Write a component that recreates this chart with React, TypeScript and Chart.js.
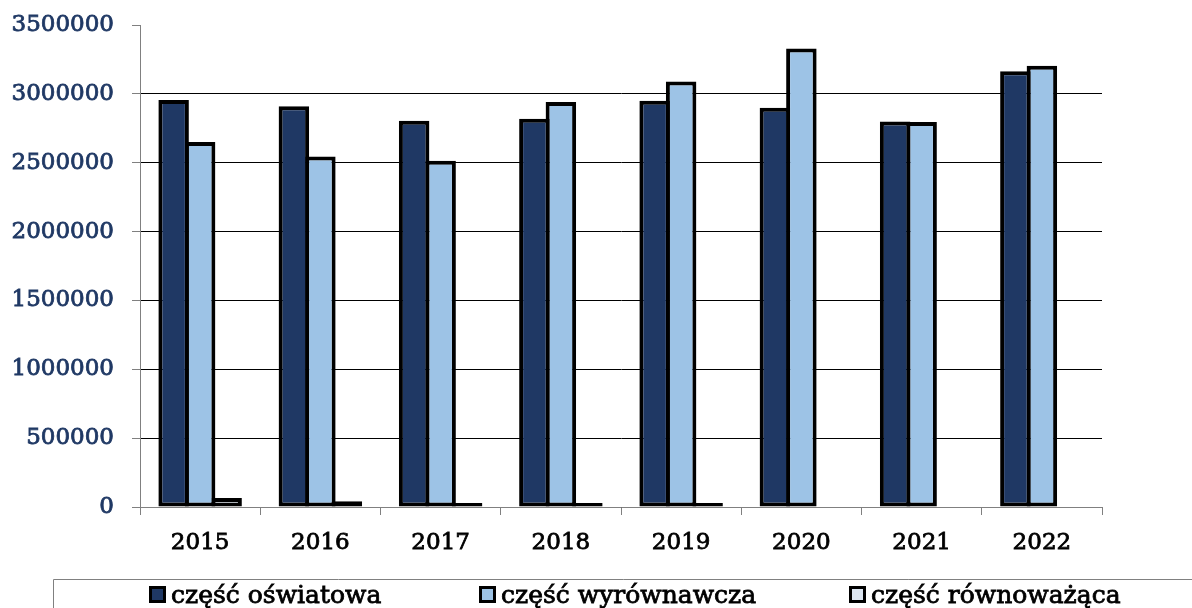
import { useEffect, useRef } from "react";
import { Chart, registerables } from "chart.js";

Chart.register(...registerables);

const categories = ["2015", "2016", "2017", "2018", "2019", "2020", "2021", "2022"];
const seriesLabels = ["część oświatowa", "część wyrównawcza", "część równoważąca"];
const oswiatowa = [2955000, 2910000, 2805000, 2820000, 2950000, 2900000, 2800000, 3165000];
const wyrownawcza = [2650000, 2545000, 2515000, 2940000, 3090000, 3330000, 2795000, 3205000];
const rownowazaca = [65000, 42000, 10000, 10000, 10000, null, null, null];
const yMin = 0;
const yMax = 3500000;
const yStep = 500000;

const FONT = "'DejaVu Serif', 'Liberation Serif', serif";
const colors = ["#1F3864", "#9DC3E6", "#DCE6F2"];

const legendPlugin = {
  id: "frameLegend",
  afterDraw(chart: any) {
    const ctx = chart.ctx as CanvasRenderingContext2D;
    ctx.save();
    ctx.strokeStyle = "#808080";
    ctx.lineWidth = 1;
    ctx.beginPath();
    ctx.moveTo(53.5, 640);
    ctx.lineTo(53.5, 579.5);
    ctx.lineTo(1200, 579.5);
    ctx.stroke();
    const xs = [149, 479, 849];
    ctx.font = `25px ${FONT}`;
    ctx.textBaseline = "alphabetic";
    ctx.textAlign = "left";
    chart.data.datasets.forEach((ds: any, i: number) => {
      const x = xs[i];
      const y = 586;
      ctx.fillStyle = ds.backgroundColor;
      ctx.fillRect(x, y, 17, 17);
      ctx.strokeStyle = "#000";
      ctx.lineWidth = 3;
      ctx.strokeRect(x + 1.5, y + 1.5, 14, 14);
      ctx.fillStyle = "#000";
      ctx.lineWidth = 0.8;
      ctx.strokeText(ds.label, x + 22, 603);
      ctx.fillText(ds.label, x + 22, 603);
    });
    ctx.restore();
  },
};

export default function App() {
  const ref = useRef<HTMLCanvasElement>(null);
  useEffect(() => {
    if (!ref.current) return;
    const common = {
      borderColor: "#000000",
      borderWidth: 4,
      borderSkipped: false,
      categoryPercentage: 0.661,
      barPercentage: 1.151,
    };
    const chart = new Chart(ref.current, {
      type: "bar",
      data: {
        labels: categories,
        datasets: [
          { label: seriesLabels[0], data: oswiatowa, backgroundColor: colors[0], ...common },
          { label: seriesLabels[1], data: wyrownawcza, backgroundColor: colors[1], ...common },
          { label: seriesLabels[2], data: rownowazaca, backgroundColor: colors[2], minBarLength: 4, ...common },
        ],
      } as any,
      options: {
        animation: false,
        responsive: true,
        maintainAspectRatio: false,
        layout: { padding: { top: 25, left: 0, right: 90, bottom: 0 } },
        plugins: {
          legend: { display: false },
          tooltip: { enabled: false },
        },
        scales: {
          x: {
            offset: true,
            grid: {
              offset: true,
              drawOnChartArea: false,
              tickLength: 8,
              tickColor: "#808080",
              color: "#808080",
            },
            border: { color: "#808080", width: 1 },
            ticks: {
              color: "#000000",
              font: { family: FONT, size: 23 },
              textStrokeColor: "#000000",
              textStrokeWidth: 0.8,
              padding: 14,
            },
            afterFit(scale: any) {
              scale.height = 101;
            },
          },
          y: {
            min: yMin,
            max: yMax,
            grid: {
              color: (c: any) => (c.tick && c.tick.value === yMax ? "rgba(0,0,0,0)" : "#000000"),
              tickColor: "#808080",
              tickLength: 8,
              lineWidth: 1,
            },
            border: { color: "#808080", width: 1 },
            ticks: {
              stepSize: yStep,
              color: "#1F3864",
              font: { family: FONT, size: 23 },
              textStrokeColor: "#1F3864",
              textStrokeWidth: 0.8,
              padding: 18,
              callback: (v: any) => String(v),
            },
            afterFit(scale: any) {
              scale.width = 140;
              scale.paddingTop = 10;
              scale.paddingBottom = 10;
            },
          },
        },
      } as any,
      plugins: [legendPlugin],
    });
    return () => chart.destroy();
  }, []);
  return (
    <div style={{ position: "fixed", left: 0, top: 0, width: 1192, height: 608, background: "#fff" }}>
      <canvas ref={ref} />
    </div>
  );
}
